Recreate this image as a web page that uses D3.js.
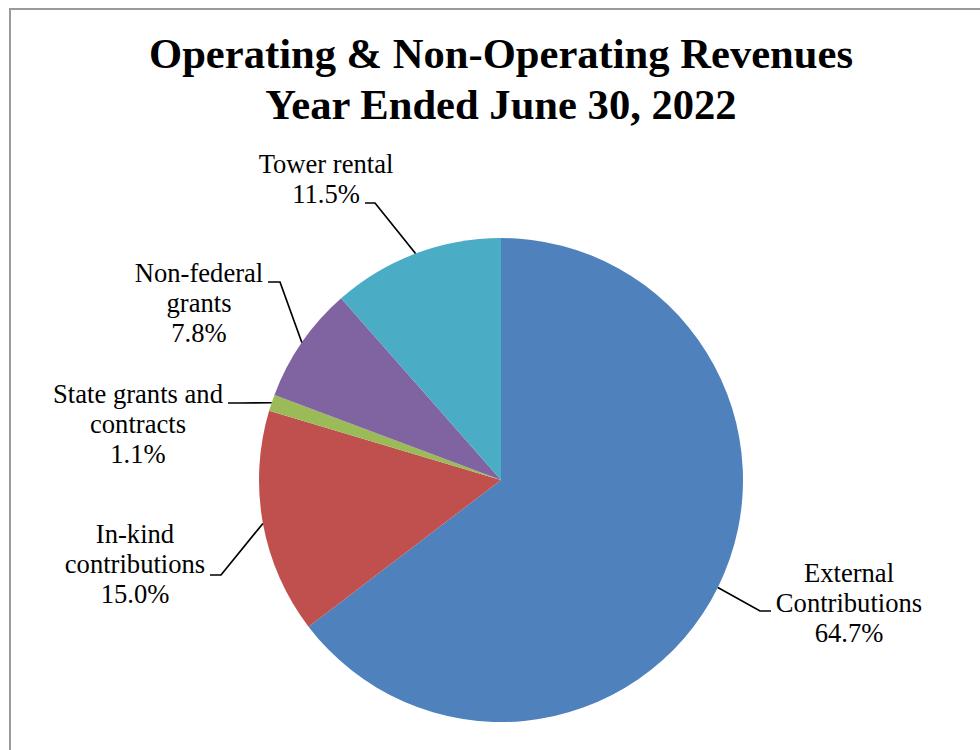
<!DOCTYPE html>
<html>
<head>
<meta charset="utf-8">
<title>Operating & Non-Operating Revenues</title>
<script src="https://d3js.org/d3.v7.min.js"></script>
<style>
  body { margin: 0; background: #fff; }
  text { font-family: "Liberation Serif", "Times New Roman", serif; fill: #000; }
</style>
</head>
<body>
<script>
// data
var categories = ["External Contributions", "In-kind contributions", "State grants and contracts", "Non-federal grants", "Tower rental"];
var values = [64.7, 15.0, 1.1, 7.8, 11.5];
var labelLines = [
  ["External", "Contributions", "64.7%"],
  ["In-kind", "contributions", "15.0%"],
  ["State grants and", "contracts", "1.1%"],
  ["Non-federal", "grants", "7.8%"],
  ["Tower rental", "11.5%"]
];
var colors = ["#4F81BD", "#C0504D", "#9BBB59", "#8064A2", "#4BACC6"];

// label layout: text centre x, first baseline y, leader elbow and end
var labelPos = [
  {x: 849, y: 582, ex: 760, ey: 611, tx: 771},
  {x: 135, y: 543, ex: 221, ey: 575, tx: 210},
  {x: 138, y: 403, ex: 240, ey: 403, tx: 228},
  {x: 199, y: 282, ex: 280, ey: 282, tx: 268},
  {x: 326, y: 173, ex: 375, ey: 203, tx: 365}
];

var width = 980, height = 750;
var cx = 501, cy = 480, radius = 242;

var svg = d3.select("body").append("svg")
    .attr("width", width)
    .attr("height", height);

// chart area border
svg.append("rect")
    .attr("x", 10).attr("y", 9)
    .attr("width", 1000).attr("height", 800)
    .attr("fill", "none")
    .attr("stroke", "#9a9a9a")
    .attr("stroke-width", 2);

var title = svg.append("text")
    .attr("text-anchor", "middle")
    .style("font-size", "42.6px")
    .style("font-weight", "bold");
title.append("tspan").attr("x", 501).attr("y", 68).text("Operating & Non-Operating Revenues");
title.append("tspan").attr("x", 501).attr("y", 119).text("Year Ended June 30, 2022");

var data = categories.map(function(c, i) { return {name: c, value: values[i], i: i}; });

var pie = d3.pie()
    .sort(null)
    .value(function(d) { return d.value; });

var arc = d3.arc()
    .innerRadius(0)
    .outerRadius(radius);

var g = svg.append("g")
    .attr("transform", "translate(" + cx + "," + cy + ")");

var arcs = pie(data);

g.selectAll("path.slice")
    .data(arcs)
    .enter().append("path")
    .attr("class", "slice")
    .attr("d", arc)
    .attr("fill", function(d) { return colors[d.data.i]; });

// leader lines from the slice edge at mid angle
svg.selectAll("path.leader")
    .data(arcs)
    .enter().append("path")
    .attr("class", "leader")
    .attr("fill", "none")
    .attr("stroke", "#000")
    .attr("stroke-width", 1.7)
    .attr("d", function(d) {
        var a = (d.startAngle + d.endAngle) / 2;
        var px = cx + radius * Math.sin(a);
        var py = cy - radius * Math.cos(a);
        var p = labelPos[d.data.i];
        return "M" + px + "," + py + "L" + p.ex + "," + p.ey + "L" + p.tx + "," + p.ey;
    });

var labels = svg.selectAll("text.label")
    .data(arcs)
    .enter().append("text")
    .attr("class", "label")
    .attr("text-anchor", "middle")
    .style("font-size", "26.6px");

labels.each(function(d) {
    var p = labelPos[d.data.i];
    var t = d3.select(this);
    labelLines[d.data.i].forEach(function(line, k) {
        t.append("tspan").attr("x", p.x).attr("y", p.y + k * 30).text(line);
    });
});
</script>
</body>
</html>
